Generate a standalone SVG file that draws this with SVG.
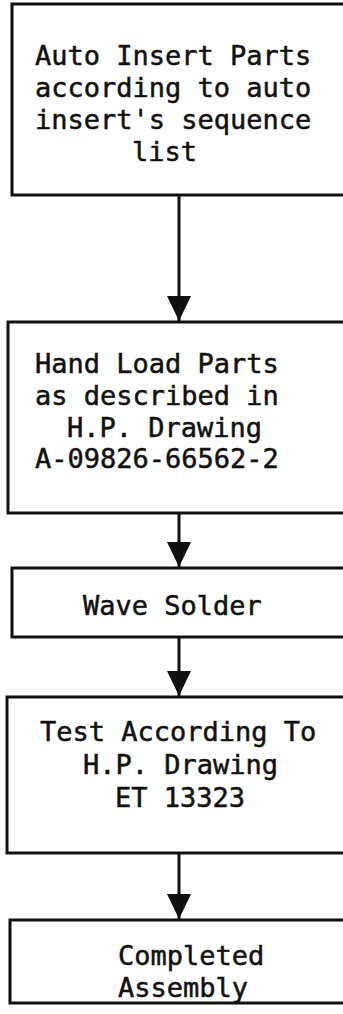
<svg xmlns="http://www.w3.org/2000/svg" width="343" height="1014" viewBox="0 0 343 1014">
<style>
.box{fill:#fff;stroke:#111;stroke-width:3}
.t{font-family:"DejaVu Sans Mono","Liberation Mono",monospace;font-size:27px;fill:#111;stroke:#111;stroke-width:0.5}
.c{stroke:#111;stroke-width:3;fill:none}
</style>
<defs>
<marker id="ah" markerUnits="userSpaceOnUse" markerWidth="26" markerHeight="28" refX="25" refY="12" orient="auto">
<path d="M0,0 L25,12 L0,24 Z" fill="#111"/>
</marker>
</defs>
<rect width="343" height="1014" fill="#fff"/>
<g id="n1">
<rect class="box" x="12" y="4" width="340" height="191"/>
<text class="t" x="35" y="65">Auto Insert Parts</text>
<text class="t" x="35" y="97">according to auto</text>
<text class="t" x="35" y="129">insert's sequence</text>
<text class="t" x="132" y="161">list</text>
</g>
<g id="n2">
<rect class="box" x="8" y="322" width="344" height="191"/>
<text class="t" x="35" y="373">Hand Load Parts</text>
<text class="t" x="35" y="405">as described in</text>
<text class="t" x="67" y="437">H.P. Drawing</text>
<text class="t" x="35" y="468">A-09826-66562-2</text>
</g>
<g id="n3">
<rect class="box" x="12" y="568" width="340" height="69"/>
<text class="t" x="83" y="615">Wave Solder</text>
</g>
<g id="n4">
<rect class="box" x="7" y="697" width="345" height="156"/>
<text class="t" x="40" y="741">Test According To</text>
<text class="t" x="83" y="774">H.P. Drawing</text>
<text class="t" x="115" y="807">ET 13323</text>
</g>
<g id="n5">
<rect class="box" x="10" y="920" width="342" height="83"/>
<text class="t" x="118" y="965">Completed</text>
<text class="t" x="118" y="997">Assembly</text>
</g>
<g id="connectors">
<line class="c" x1="179" y1="196" x2="179" y2="321" marker-end="url(#ah)"/>
<line class="c" x1="179" y1="514" x2="179" y2="567" marker-end="url(#ah)"/>
<line class="c" x1="179" y1="638" x2="179" y2="696" marker-end="url(#ah)"/>
<line class="c" x1="179" y1="854" x2="179" y2="919" marker-end="url(#ah)"/>
</g>
</svg>
